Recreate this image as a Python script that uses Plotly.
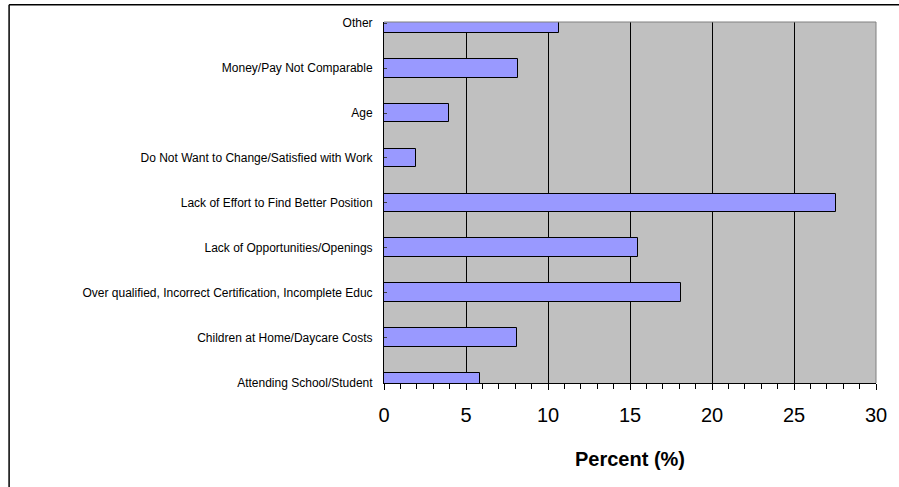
import plotly.graph_objects as go

# Reasons, listed bottom-to-top as they appear on the category axis
reasons = [
    "Attending School/Student",
    "Children at Home/Daycare Costs",
    "Over qualified, Incorrect Certification, Incomplete Educ",
    "Lack of Opportunities/Openings",
    "Lack of Effort to Find Better Position",
    "Do Not Want to Change/Satisfied with Work",
    "Age",
    "Money/Pay Not Comparable",
    "Other",
]
percent = [5.85, 8.1, 18.1, 15.5, 27.55, 1.95, 3.98, 8.15, 10.67]

x_ticks = [0, 5, 10, 15, 20, 25, 30]

fig = go.Figure(
    go.Bar(
        x=percent,
        y=reasons,
        orientation="h",
        width=0.42,
        marker=dict(color="#9999FF", line=dict(color="#000000", width=1)),
        hoverinfo="x+y",
    )
)

fig.update_layout(
    width=899,
    height=487,
    margin=dict(l=384, r=23, t=22, b=104),
    paper_bgcolor="#FFFFFF",
    plot_bgcolor="#C0C0C0",
    font=dict(family="Liberation Sans, Arial, sans-serif", color="#000000"),
    showlegend=False,
    bargap=0,
)

fig.update_xaxes(
    range=[0, 30],
    tickvals=x_ticks,
    ticktext=[str(v) for v in x_ticks],
    tickfont=dict(size=20),
    ticks="outside",
    ticklen=6,
    tickcolor="#000000",
    showline=True,
    linecolor="#000000",
    linewidth=1,
    showgrid=True,
    gridcolor="#000000",
    gridwidth=1,
    zeroline=False,
    minor=dict(dtick=1, ticks="outside", ticklen=5, tickcolor="#000000", showgrid=False),
    ticklabelstandoff=8,
    title=dict(text="<b>Percent (%)</b>", font=dict(size=20), standoff=26),
)

fig.update_yaxes(
    type="category",
    categoryorder="array",
    categoryarray=reasons,
    range=[-0.005, 8.025],
    tickfont=dict(size=12),
    ticks="inside",
    ticklen=3,
    tickcolor="#404040",
    showline=True,
    linecolor="#000000",
    linewidth=1,
    showgrid=False,
    zeroline=False,
    ticklabelstandoff=8,
)

# Grey frame on the top and right of the plotting area
fig.add_shape(type="line", xref="paper", yref="paper", x0=0, x1=1, y0=1, y1=1,
              line=dict(color="#808080", width=1))
fig.add_shape(type="line", xref="paper", yref="paper", x0=1, x1=1, y0=0, y1=1,
              line=dict(color="#808080", width=1))

# Outer chart border along the top and left edges of the page
fig.add_shape(type="line", xref="paper", yref="paper", x0=-0.762, x1=1.1, y0=1.048, y1=1.048,
              line=dict(color="#000000", width=1.5))
fig.add_shape(type="line", xref="paper", yref="paper", x0=-0.762, x1=-0.762, y0=-0.3, y1=1.048,
              line=dict(color="#000000", width=1.5))

fig.write_html("out.html")
